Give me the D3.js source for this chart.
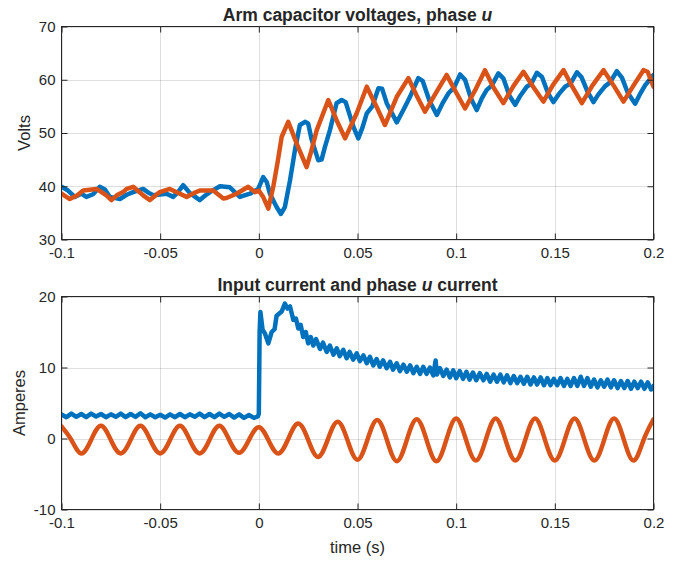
<!DOCTYPE html>
<html><head><meta charset="utf-8">
<script src="https://cdn.jsdelivr.net/npm/d3@7"></script>
<style>
body{margin:0;background:#fff}
svg{display:block}
text{font-family:Arial,"Liberation Sans",Helvetica,sans-serif;fill:#262626}
</style>
</head><body>
<svg id="c" width="686" height="561"></svg>
<script>
// ---------- data (time in s) ----------
const xTicks = [-0.1, -0.05, 0, 0.05, 0.1, 0.15, 0.2];
const xTickLabels = ["-0.1", "-0.05", "0", "0.05", "0.1", "0.15", "0.2"];
const topYTicks = [30, 40, 50, 60, 70];
const topYTickLabels = ["30", "40", "50", "60", "70"];
const botYTicks = [-10, 0, 10, 20];
const botYTickLabels = ["-10", "0", "10", "20"];

// Arm capacitor voltage (blue)
const capVoltage1 = [
[-0.1,39.9],[-0.0967,39.2],[-0.0933,38.0],[-0.09,38.6],[-0.0874,38.0],[-0.084,38.5],[-0.0806,39.9],[-0.078,39.4],
[-0.0755,38.0],[-0.0704,37.6],[-0.067,38.4],[-0.0637,38.9],[-0.0586,39.5],[-0.056,38.8],[-0.0535,38.3],[-0.0468,38.6],
[-0.0434,38.0],[-0.041,38.9],[-0.0383,40.2],[-0.0349,38.7],[-0.0299,37.4],[-0.027,38.3],[-0.0248,38.9],[-0.0197,40.0],
[-0.0147,39.8],[-0.0096,38.0],[-0.0045,38.6],[-0.0003,39.5],
[0.0022,41.7],[0.004,40.8],[0.0056,38.6],[0.009,36.1],[0.0112,34.8],[0.0132,36.1],[0.0158,41.1],[0.0183,46.8],
[0.0208,51.5],[0.0234,52.1],[0.025,51.8],[0.0268,48.7],[0.0301,44.9],[0.0318,45.0],[0.0335,47.4],[0.036,50.5],
[0.0394,55.6],[0.042,56.2],[0.044,55.8],[0.0479,51.2],[0.0504,49.0],[0.0525,51.0],[0.0547,53.7],[0.0575,55.0],
[0.0606,58.4],[0.0625,58.3],[0.0648,55.6],[0.0699,52.0],[0.0735,54.5],[0.0766,56.8],[0.0808,60.3],[0.083,59.8],
[0.0865,56.0],[0.0902,53.4],[0.093,55.5],[0.096,57.4],[0.099,58.6],[0.102,61.0],[0.1045,60.0],[0.1075,56.5],
[0.1104,54.3],[0.113,56.5],[0.1155,58.1],[0.118,58.9],[0.1214,61.2],[0.124,60.2],[0.127,57.0],[0.1299,55.3],
[0.1325,57.0],[0.1358,58.7],[0.138,59.2],[0.1409,61.3],[0.1435,60.5],[0.1465,57.5],[0.1493,55.8],[0.152,57.3],
[0.1552,58.7],[0.158,59.3],[0.1612,61.4],[0.1635,60.5],[0.1665,57.8],[0.1696,55.8],[0.172,57.2],[0.1755,58.8],
[0.178,59.5],[0.1814,61.6],[0.184,60.4],[0.187,57.5],[0.1907,55.5],[0.193,57.2],[0.1958,59.0],[0.2,60.9]
];

// Arm capacitor voltage (orange)
const capVoltage2 = [
[-0.1,38.6],[-0.0958,37.6],[-0.092,38.3],[-0.089,39.2],[-0.0823,39.5],[-0.0772,38.3],[-0.0747,37.4],[-0.072,38.3],
[-0.0688,38.9],[-0.067,39.5],[-0.0637,39.9],[-0.0586,38.3],[-0.0552,37.4],[-0.0502,38.9],[-0.0451,39.5],[-0.04,38.6],
[-0.0366,38.0],[-0.033,38.7],[-0.0299,39.2],[-0.0231,39.2],[-0.018,37.7],[-0.0164,37.8],[-0.0113,38.6],[-0.0054,39.9],
[-0.002,38.9],[0.0,39.2],
[0.0022,38.0],[0.0048,35.8],[0.0073,39.9],[0.0095,44.5],[0.0116,49.3],[0.0149,52.1],[0.0192,48.0],[0.0242,43.6],
[0.0265,46.5],[0.0293,50.5],[0.0352,56.2],[0.0394,52.4],[0.0437,49.0],[0.0496,53.7],[0.0547,58.7],[0.0597,54.9],
[0.0639,51.5],[0.0699,56.8],[0.0758,60.3],[0.08,57.0],[0.0842,54.0],[0.0902,57.8],[0.0952,60.9],[0.1,57.6],
[0.1045,54.6],[0.11,58.3],[0.1146,61.8],[0.119,58.5],[0.1239,55.6],[0.129,58.8],[0.1341,61.5],[0.139,58.7],
[0.1442,55.9],[0.149,59.0],[0.1544,61.8],[0.159,58.6],[0.1637,55.6],[0.169,58.9],[0.1747,61.8],[0.18,58.8],
[0.1848,55.9],[0.19,59.0],[0.1949,61.8],[0.197,61.5],[0.2,58.7]
];

// Input current (blue)
const inputCurrent = [
[-0.1,3.4],[-0.0975,3.0],[-0.095,3.5],[-0.0925,3.05],[-0.09,3.45],[-0.0875,3.0],[-0.085,3.5],[-0.0825,3.1],
[-0.08,3.45],[-0.0775,3.0],[-0.075,3.4],[-0.0725,3.05],[-0.07,3.5],[-0.0675,3.0],[-0.065,3.45],[-0.0625,3.05],
[-0.06,3.55],[-0.0575,3.0],[-0.055,3.4],[-0.0525,3.0],[-0.05,3.35],[-0.0475,2.95],[-0.045,3.4],[-0.0425,3.0],
[-0.04,3.45],[-0.0375,3.0],[-0.035,3.4],[-0.0325,3.05],[-0.03,3.5],[-0.0275,3.0],[-0.025,3.45],[-0.0225,3.0],
[-0.02,3.5],[-0.0175,3.05],[-0.015,3.45],[-0.0125,2.95],[-0.01,3.4],[-0.0075,2.9],[-0.005,3.3],[-0.0025,2.9],
[-0.0005,3.1],
[0.0,3.5],[0.0004,15.0],[0.0008,17.8],[0.0019,15.3],[0.0031,14.8],[0.0048,13.4],[0.0065,15.0],[0.008,15.4],
[0.009,17.3],[0.0116,17.9],[0.0132,19.0],[0.0145,18.3],[0.0158,18.6],[0.0175,16.7],[0.0188,16.9],[0.02,15.5],
[0.0212,16.0],[0.0225,14.3],[0.0238,15.0],[0.025,13.4],[0.0263,14.3],[0.0276,13.1],[0.029,14.0],[0.031,12.6],
[0.0325,13.5],[0.0344,12.2],[0.036,13.1],[0.0378,11.8],[0.0395,12.7],[0.041,11.6],[0.0428,12.5],[0.0445,11.3],
[0.046,12.2],[0.0478,11.1],[0.0496,12.0],[0.0512,10.9],[0.053,11.7],[0.0547,10.6],[0.0563,11.5],[0.058,10.3],
[0.0597,11.2],[0.0613,10.1],[0.063,11.0],[0.0648,9.9],[0.0665,10.8],[0.068,9.7],[0.0699,10.6],[0.0715,9.5],
[0.0733,10.4],[0.075,9.4],[0.0767,10.3],[0.0783,9.2],[0.08,10.1],[0.0817,9.1],[0.0833,10.1],[0.085,9.1],
[0.0867,10.0],[0.0884,8.9],[0.0896,11.0],[0.0902,9.0],[0.0918,9.9],[0.0935,8.8],[0.0952,9.7],[0.0968,8.6],
[0.0985,9.6],[0.1,8.5],[0.1018,9.5],[0.1035,8.4],[0.1052,9.4],[0.1068,8.3],[0.1085,9.3],[0.1102,8.2],
[0.112,9.2],[0.1138,8.2],[0.1155,9.1],[0.1172,8.0],[0.119,9.0],[0.1207,8.0],[0.1224,9.0],[0.1241,7.9],
[0.1258,8.9],[0.1275,7.8],[0.1292,8.8],[0.1309,7.8],[0.1326,8.7],[0.1343,7.7],[0.136,8.7],[0.1377,7.6],
[0.1394,8.6],[0.141,7.6],[0.1428,8.6],[0.1445,7.5],[0.1462,8.5],[0.1478,7.5],[0.1495,8.4],[0.1512,7.5],
[0.1529,8.5],[0.1546,7.4],[0.1563,8.4],[0.158,7.4],[0.1597,8.5],[0.1614,7.4],[0.1631,8.7],[0.1648,7.4],
[0.1665,8.5],[0.1682,7.3],[0.1699,8.3],[0.1716,7.2],[0.1733,8.2],[0.175,7.3],[0.1767,8.3],[0.1784,7.2],
[0.18,8.2],[0.1818,7.1],[0.1835,8.1],[0.1852,7.1],[0.1869,8.1],[0.1886,7.0],[0.1903,8.0],[0.192,7.1],
[0.1937,8.0],[0.1954,7.0],[0.1971,7.9],[0.1988,6.9],[0.2,7.4]
];

// Phase u current (orange)
const phaseCurrent = [
[-0.1,1.7],[-0.095,-0.2],[-0.09,-2.1],[-0.085,-0.2],[-0.08,1.8],[-0.075,-0.2],[-0.07,-2.1],[-0.065,-0.2],
[-0.06,1.8],[-0.055,-0.2],[-0.05,-2.1],[-0.045,-0.2],[-0.04,1.8],[-0.035,-0.2],[-0.03,-2.1],[-0.025,-0.2],
[-0.02,1.8],[-0.015,-0.2],[-0.01,-2.0],[-0.005,-0.2],[0,1.6],[0.005,-0.3],[0.01,-2.1],[0.015,0.0],
[0.02,2.1],[0.025,-0.2],[0.03,-2.6],[0.035,-0.1],[0.04,2.35],[0.045,-0.3],[0.05,-3.0],[0.055,-0.2],
[0.06,2.6],[0.065,-0.3],[0.07,-3.2],[0.075,-0.2],[0.08,2.7],[0.085,-0.2],[0.09,-3.2],[0.095,-0.2],
[0.1,2.8],[0.105,-0.2],[0.11,-3.1],[0.115,-0.2],[0.12,2.8],[0.125,-0.2],[0.13,-3.1],[0.135,-0.2],
[0.14,2.8],[0.145,-0.2],[0.15,-3.1],[0.155,-0.2],[0.16,2.8],[0.165,-0.2],[0.17,-3.1],[0.175,-0.2],
[0.18,2.8],[0.185,-0.2],[0.19,-3.1],[0.195,-0.2],[0.2,2.7]
];

// ---------- drawing ----------
const BLUE = "#0072BD", ORANGE = "#D95319", AX = "#262626";
const svg = d3.select("#c");
svg.append("rect").attr("width", 686).attr("height", 561).attr("fill", "#fff");

const x = d3.scaleLinear().domain([-0.1, 0.2]).range([61.5, 653.5]);

function panel(opts) {
  const y = d3.scaleLinear().domain(opts.domain).range(opts.range);
  const g = svg.append("g");
  const [y0, y1] = [opts.range[1], opts.range[0]]; // top, bottom
  const id = "clip" + opts.key;
  svg.append("defs").append("clipPath").attr("id", id)
    .append("rect").attr("x", x.range()[0]).attr("y", y0)
    .attr("width", x.range()[1] - x.range()[0]).attr("height", y1 - y0);

  // grid
  const grid = g.append("g").attr("stroke", AX).attr("stroke-opacity", 0.15).attr("stroke-width", 1);
  grid.selectAll("line.gx").data(xTicks).join("line")
    .attr("x1", d => Math.round(x(d)) + 0.5).attr("x2", d => Math.round(x(d)) + 0.5)
    .attr("y1", y0).attr("y2", y1);
  grid.selectAll("line.gy").data(opts.ticks).join("line")
    .attr("y1", d => Math.round(y(d)) + 0.5).attr("y2", d => Math.round(y(d)) + 0.5)
    .attr("x1", x.range()[0]).attr("x2", x.range()[1]);

  // lines
  const lg = g.append("g").attr("clip-path", `url(#${id})`);
  opts.series.forEach(s => {
    const line = d3.line().x(d => x(d[0])).y(d => y(d[1])).curve(s.curve || d3.curveLinear);
    lg.append("path").datum(s.data).attr("d", line)
      .attr("fill", "none").attr("stroke", s.color).attr("stroke-width", 4.5)
      .attr("stroke-linejoin", "round").attr("stroke-linecap", "round");
  });

  // axes (ticks inward on all four sides)
  const fmtX = d => xTickLabels[xTicks.indexOf(d)];
  const fmtY = d => opts.labels[opts.ticks.indexOf(d)];
  const styleAxis = sel => {
    sel.select(".domain").remove();
    sel.selectAll(".tick line").attr("stroke", AX);
    sel.selectAll(".tick text").attr("fill", AX).style("font-size", "15px")
      .style("font-family", 'Arial,"Liberation Sans",Helvetica,sans-serif');
  };
  g.append("g").attr("transform", `translate(0,${y1})`)
    .call(d3.axisBottom(x).tickValues(xTicks).tickFormat(fmtX).tickSizeInner(-6).tickSizeOuter(0).tickPadding(8))
    .call(styleAxis);
  g.append("g").attr("transform", `translate(0,${y0})`)
    .call(d3.axisTop(x).tickValues(xTicks).tickFormat("").tickSizeInner(-6).tickSizeOuter(0))
    .call(styleAxis);
  g.append("g").attr("transform", `translate(${x.range()[0]},0)`)
    .call(d3.axisLeft(y).tickValues(opts.ticks).tickFormat(fmtY).tickSizeInner(-6).tickSizeOuter(0).tickPadding(6))
    .call(styleAxis);
  g.append("g").attr("transform", `translate(${x.range()[1]},0)`)
    .call(d3.axisRight(y).tickValues(opts.ticks).tickFormat("").tickSizeInner(-6).tickSizeOuter(0))
    .call(styleAxis);

  // box
  g.append("rect").attr("x", x.range()[0]).attr("y", y0)
    .attr("width", x.range()[1] - x.range()[0]).attr("height", y1 - y0)
    .attr("fill", "none").attr("stroke", AX).attr("stroke-width", 1);

  // title
  const cx = (x.range()[0] + x.range()[1]) / 2;
  const t = g.append("text").attr("x", cx).attr("y", opts.titleY)
    .attr("text-anchor", "middle").style("font-size", "17.5px").style("font-weight", "bold");
  t.append("tspan").text(opts.title[0]);
  t.append("tspan").style("font-style", "italic").text(opts.title[1]);
  t.append("tspan").text(opts.title[2]);

  // ylabel
  g.append("text").attr("transform", `translate(${opts.ylabelX},${(y0 + y1) / 2}) rotate(-90)`)
    .attr("text-anchor", "middle").style("font-size", "16.5px").text(opts.ylabel);
  return y;
}

panel({
  key: "top", domain: [30, 70], range: [239.5, 26.5], ticks: topYTicks, labels: topYTickLabels,
  title: ["Arm capacitor voltages, phase ", "u", ""], titleY: 21, ylabel: "Volts", ylabelX: 29.5,
  series: [{data: capVoltage1, color: BLUE}, {data: capVoltage2, color: ORANGE}]
});
panel({
  key: "bot", domain: [-10, 20], range: [509.5, 296.5], ticks: botYTicks, labels: botYTickLabels,
  title: ["Input current and phase ", "u", " current"], titleY: 291, ylabel: "Amperes", ylabelX: 24.5,
  series: [{data: inputCurrent, color: BLUE}, {data: phaseCurrent, color: ORANGE, curve: d3.curveNatural}]
});

svg.append("text").attr("x", 357.5).attr("y", 553).attr("text-anchor", "middle")
  .style("font-size", "16.5px").text("time (s)");
</script>
</body></html>
